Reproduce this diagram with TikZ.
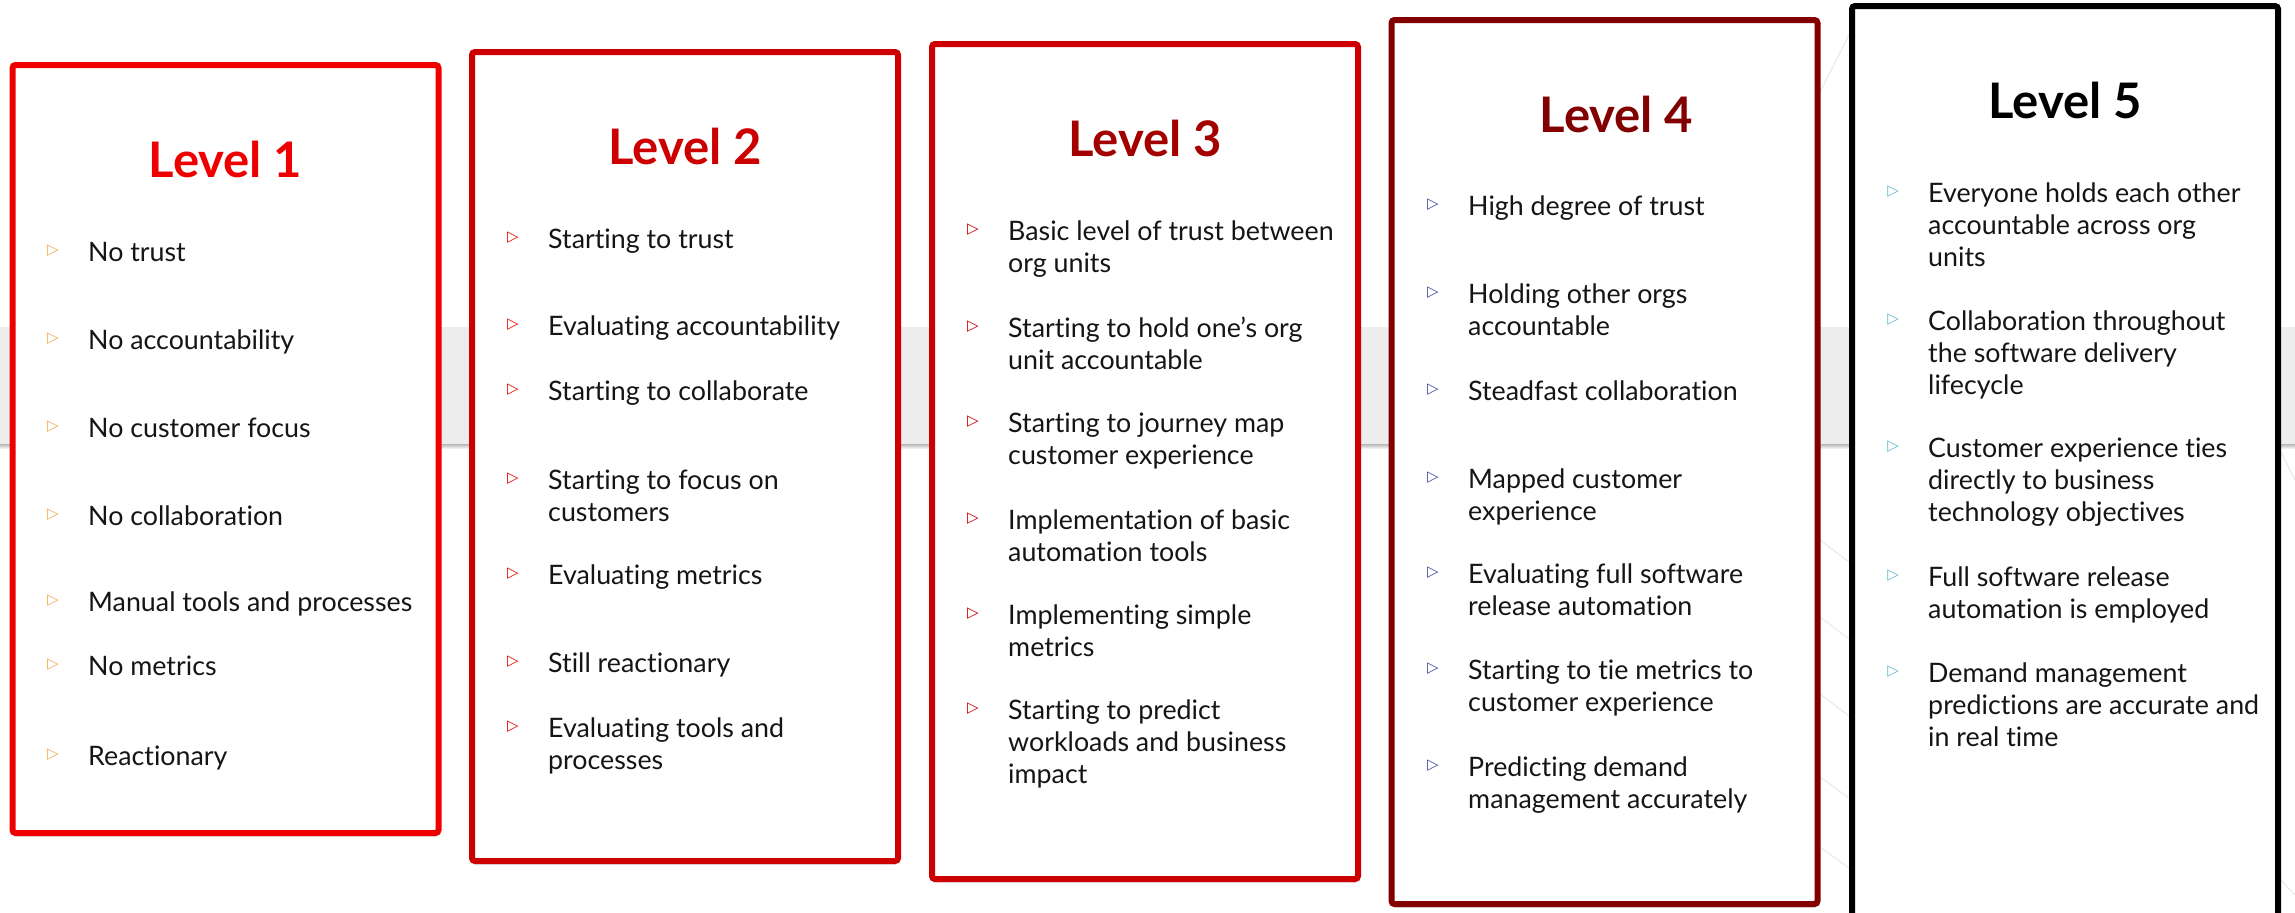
\documentclass[tikz,border=0pt]{standalone}
\usepackage{fontspec}
\setmainfont{Lato}[Ligatures=NoCommon]
\newfontfamily\symfont{DejaVu Sans}
\usetikzlibrary{positioning,shadows}
\definecolor{lvlone}{HTML}{EE0000}
\definecolor{lvltwo}{HTML}{CC0000}
\definecolor{lvlthree}{HTML}{A30000}
\definecolor{lvlfour}{HTML}{820000}
\definecolor{lvlfive}{HTML}{000000}
\definecolor{bulone}{HTML}{F5A94E}
\definecolor{bultwo}{HTML}{EE0000}
\definecolor{bulthree}{HTML}{CC0000}
\definecolor{bulfour}{HTML}{3D4E9E}
\definecolor{bulfive}{HTML}{5BBFC6}
\definecolor{txtcol}{HTML}{151515}
\definecolor{bandgrey}{HTML}{EDEDED}
% bullet and text of one point: name, bullet colour, x, baseline, text
\newcommand{\Pt}[5]{%
  \node[bul=#2] (#1b) at (#3-35,#4-10) {▷};
  \node[itemtxt] (#1) at (#3,#4-22.4) {\strut #5};}

\begin{document}
\begin{tikzpicture}[x=1pt,y=-1pt,
    lvlbox/.style={draw=#1, line width=6pt, fill=white, rounded corners=3pt,
      inner sep=0pt, minimum width=426pt,
      drop shadow={shadow xshift=0pt, shadow yshift=-4pt, opacity=.18}},
    lvltitle/.style={text=#1, font=\fontsize{49}{56}\selectfont\bfseries, anchor=base},
    itemtxt/.style={text=txtcol, font=\fontsize{26.8}{32}\selectfont,
      anchor=north west, align=left, inner sep=0pt},
    bul/.style={text=#1, font=\symfont\fontsize{15}{15}\selectfont, inner sep=0pt},
    deco/.style={draw=black!9, line width=1pt}]
  \fill[white] (0,0) rectangle (2295,913);
  \useasboundingbox (0,0) rectangle (2295,913);

  % background band
  \fill[bandgrey] (0,327) rectangle (2295,444);
  \shade[top color=black!28, bottom color=white] (0,444) rectangle (2295,449);
  \draw[deco] (1820,92) -- (1849,35);
  \draw[deco] (1820,540) -- (1849,562);
  \draw[deco] (1820,617) -- (1849,639);
  \draw[deco] (1820,694) -- (1849,716);
  \draw[deco] (1820,777) -- (1849,798);
  \draw[deco] (1820,847) -- (1849,868);
  \draw[deco] (2281,452) -- (2295,480);
  \draw[deco] (2281,880) -- (2295,895);

  % the five levels
  \node[lvlbox=lvlone, minimum height=768pt] (L1) at (225.5,449) {};
  \node[lvlbox=lvltwo, minimum height=809pt] (L2) at (685,456.5) {};
  \node[lvlbox=lvltwo, minimum height=835pt] (L3) at (1145,461.5) {};
  \node[lvlbox=lvlfour, minimum height=884pt] (L4) at (1604.5,462) {};
  \node[lvlbox=lvlfive, minimum height=940pt] (L5) at (2065,476) {};

  \node[lvltitle=lvlone] (T1) at ([yshift=-115pt]L1.north) {Level 1};
  \node[lvltitle=lvltwo] (T2) at ([yshift=-115pt]L2.north) {Level 2};
  \node[lvltitle=lvlthree] (T3) at ([yshift=-115pt]L3.north) {Level 3};
  \node[lvltitle=lvlfour] (T4) at ([xshift=12pt,yshift=-115pt]L4.north) {Level 4};
  \node[lvltitle=lvlfive] (T5) at ([yshift=-115pt]L5.north) {Level 5};

  % level 1
  \Pt{p1a}{bulone}{88}{261}{No trust}
  \Pt{p1b}{bulone}{88}{349}{No accountability}
  \Pt{p1c}{bulone}{88}{437}{No customer focus}
  \Pt{p1d}{bulone}{88}{525}{No collaboration}
  \Pt{p1e}{bulone}{88}{611}{Manual tools and processes}
  \Pt{p1f}{bulone}{88}{675}{No metrics}
  \Pt{p1g}{bulone}{88}{765}{Reactionary}

  % level 2
  \Pt{p2a}{bultwo}{548}{248}{Starting to trust}
  \Pt{p2b}{bultwo}{548}{335}{Evaluating accountability}
  \Pt{p2c}{bultwo}{548}{400}{Starting to collaborate}
  \Pt{p2d}{bultwo}{548}{489}{Starting to focus on\\customers}
  \Pt{p2e}{bultwo}{548}{584}{Evaluating metrics}
  \Pt{p2f}{bultwo}{548}{672}{Still reactionary}
  \Pt{p2g}{bultwo}{548}{737}{Evaluating tools and\\processes}

  % level 3
  \Pt{p3a}{bulthree}{1008}{240}{Basic level of trust between\\org units}
  \Pt{p3b}{bulthree}{1008}{337}{Starting to hold one’s org\\unit accountable}
  \Pt{p3c}{bulthree}{1008}{432}{Starting to journey map\\customer experience}
  \Pt{p3d}{bulthree}{1008}{529}{Implementation of basic\\automation tools}
  \Pt{p3e}{bulthree}{1008}{624}{Implementing simple\\metrics}
  \Pt{p3f}{bulthree}{1008}{719}{Starting to predict\\workloads and business\\impact}

  % level 4
  \Pt{p4a}{bulfour}{1468}{215}{High degree of trust}
  \Pt{p4b}{bulfour}{1468}{303}{Holding other orgs\\accountable}
  \Pt{p4c}{bulfour}{1468}{400}{Steadfast collaboration}
  \Pt{p4d}{bulfour}{1468}{488}{Mapped customer\\experience}
  \Pt{p4e}{bulfour}{1468}{583}{Evaluating full software\\release automation}
  \Pt{p4f}{bulfour}{1468}{679}{Starting to tie metrics to\\customer experience}
  \Pt{p4g}{bulfour}{1468}{776}{Predicting demand\\management accurately}

  % level 5
  \Pt{p5a}{bulfive}{1928}{202}{Everyone holds each other\\accountable across org\\units}
  \Pt{p5b}{bulfive}{1928}{330}{Collaboration throughout\\the software delivery\\lifecycle}
  \Pt{p5c}{bulfive}{1928}{457}{Customer experience ties\\directly to business\\technology objectives}
  \Pt{p5d}{bulfive}{1928}{586}{Full software release\\automation is employed}
  \Pt{p5e}{bulfive}{1928}{682}{Demand management\\predictions are accurate and\\in real time}
\end{tikzpicture}
\end{document}
